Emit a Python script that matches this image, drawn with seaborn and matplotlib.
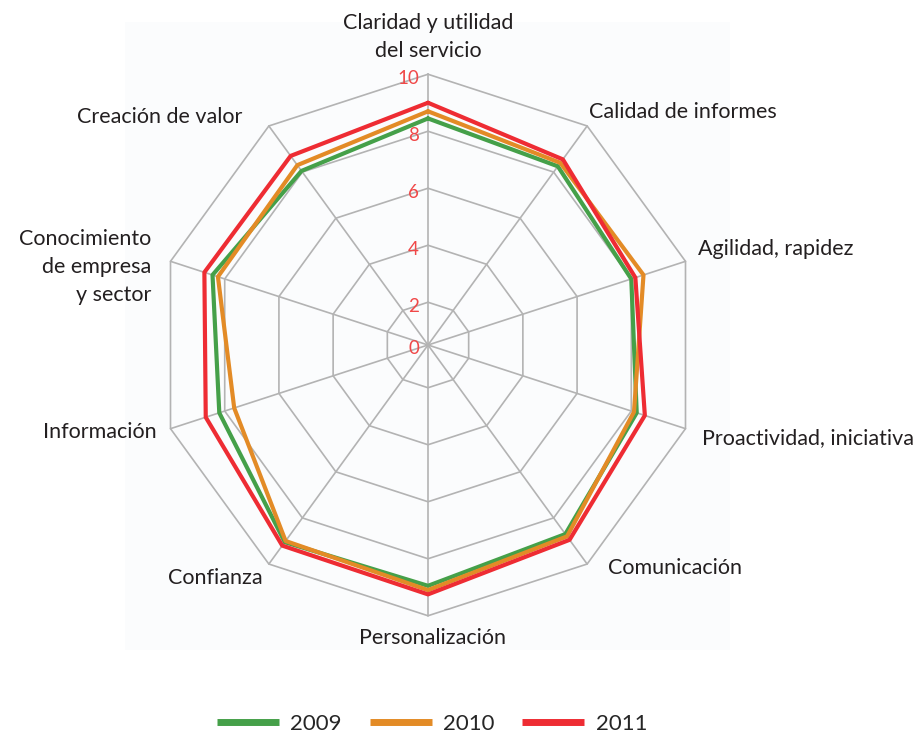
import numpy as np
import pandas as pd
import matplotlib
matplotlib.use('Agg')
import matplotlib.pyplot as plt
from matplotlib.patches import Rectangle
from matplotlib.lines import Line2D
import seaborn as sns

# datos (escala 0-10)
categorias = ['Claridad y utilidad\ndel servicio', 'Calidad de informes',
              'Agilidad, rapidez', 'Proactividad, iniciativa', 'Comunicación',
              'Personalización', 'Confianza', 'Información',
              'Conocimiento\nde empresa\ny sector', 'Creación de valor']
anios = ['2009', '2010', '2011']
v2009 = [8.45, 8.25, 8.0, 8.2, 8.7, 8.95, 9.05, 8.2, 8.45, 8.05]
v2010 = [8.7, 8.4, 8.45, 8.1, 8.8, 9.1, 9.0, 7.65, 8.25, 8.3]
v2011 = [9.0, 8.55, 8.15, 8.5, 8.95, 9.25, 9.2, 8.7, 8.75, 8.7]
ticks = [2, 4, 6, 8, 10]
tick_labels = ['2', '4', '6', '8', '10']

colores = ['#45a049', '#e38b26', '#ee2c33']
gris = '#b3b3b3'
rojo_ticks = '#f04848'
r_min = 0.5  # el centro del grafico original no esta en 0

sns.set_theme(style='white')
plt.rcParams['font.family'] = ['Lato', 'DejaVu Sans']

n = len(categorias)
ang = np.linspace(0, 2 * np.pi, n, endpoint=False)

filas = []
for anio, vals in zip(anios, [v2009, v2010, v2011]):
    for a, v in zip(np.append(ang, 2 * np.pi), vals + vals[:1]):
        filas.append({'anio': anio, 'ang': a, 'valor': v})
df = pd.DataFrame(filas)

fig = plt.figure(figsize=(9.15, 7.42), dpi=100)
fondo = Rectangle((125 / 915, 1 - 650 / 742), 605 / 915, 628 / 742,
                  transform=fig.transFigure, facecolor='#fbfcfd',
                  edgecolor='none', zorder=-10)
fig.patches.append(fondo)

ax = fig.add_axes([157.25 / 915, 1 - 615.75 / 742, 541.5 / 915, 541.5 / 742],
                  projection='polar')
ax.patch.set_visible(False)
ax.set_theta_zero_location('N')
ax.set_theta_direction(-1)

# rejilla poligonal
for t in ticks:
    ax.plot(np.append(ang, ang[0]), [t] * (n + 1), color=gris, lw=1.2,
            zorder=1, clip_on=False)
for a in ang:
    ax.plot([a, a], [r_min, 10], color=gris, lw=1.2, zorder=1, clip_on=False)

sns.lineplot(data=df, x='ang', y='valor', hue='anio', palette=colores,
             sort=False, estimator=None, lw=3.0, legend=False, ax=ax, zorder=3)

ax.set_ylim(r_min, 10)
ax.grid(False)
ax.spines['polar'].set_visible(False)
ax.set_xticks([])
ax.set_yticks([])
ax.set_xlabel('')
ax.set_ylabel('')

# etiquetas del eje radial
for t, lab in zip([r_min] + ticks, ['0'] + tick_labels):
    ax.annotate(lab, xy=(0, t), xytext=(-9, -4), textcoords='offset pixels',
                ha='right', va='center', color=rojo_ticks, fontsize=13.5,
                annotation_clip=False)

# etiquetas de categorias
offsets = [(0, 13), (2, 14), (13, 12), (17, -9), (21, -4),
           (5, -22), (-6, -14), (-14, -3), (-19, -6), (-26, 9)]
alineacion = [('center', 'bottom'), ('left', 'center'), ('left', 'center'),
              ('left', 'center'), ('left', 'center'), ('center', 'center'),
              ('right', 'center'), ('right', 'center'), ('right', 'center'),
              ('right', 'center')]
for a, lab, off, (ha, va) in zip(ang, categorias, offsets, alineacion):
    ax.annotate(lab, xy=(a, 10), xytext=off, textcoords='offset pixels',
                ha=ha, va=va, multialignment=ha, fontsize=15.5, color='#231f20',
                linespacing=1.5, annotation_clip=False)

handles = [Line2D([0], [0], color=c, lw=5, solid_capstyle='butt') for c in colores]
fig.legend(handles, anios, loc='center', bbox_to_anchor=(432 / 915, 1 - 724 / 742),
           ncol=3, frameon=False, fontsize=16, handlelength=2.8,
           handletextpad=0.5, columnspacing=1.25)

fig.savefig('out.png', dpi=100)
